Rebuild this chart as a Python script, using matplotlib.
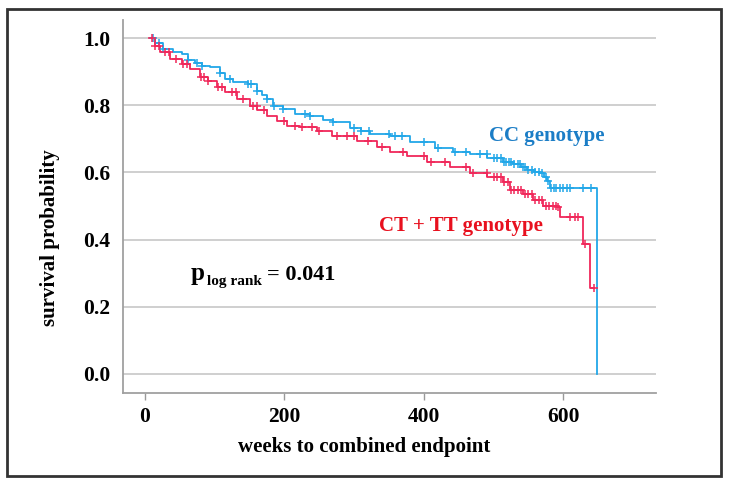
import numpy as np
import matplotlib
matplotlib.use("Agg")
import matplotlib.pyplot as plt
from matplotlib.patches import Rectangle

# Kaplan-Meier steps (weeks, survival after the step)
cc_time = [7, 14, 26, 40, 53, 62, 72, 82, 93, 108, 115, 126, 148, 160, 168, 175, 184, 198,
           215, 237, 255, 270, 294, 310, 323, 351, 380, 416, 442, 466, 491, 514, 528, 540,
           548, 558, 567, 572, 577, 581, 648]
cc_surv = [1.0, 0.985, 0.967, 0.960, 0.952, 0.934, 0.925, 0.916, 0.913, 0.896, 0.878, 0.869,
           0.863, 0.842, 0.830, 0.818, 0.797, 0.788, 0.775, 0.767, 0.757, 0.749, 0.731, 0.722,
           0.713, 0.707, 0.690, 0.672, 0.660, 0.654, 0.642, 0.630, 0.624, 0.615, 0.606, 0.600,
           0.597, 0.585, 0.573, 0.555, 0.0]
cc_censored = [12, 20, 26, 62, 75, 82, 108, 122, 148, 152, 160, 175, 185, 198, 230, 237, 270,
               300, 310, 322, 350, 358, 368, 400, 420, 445, 460, 480, 490, 500, 505, 510, 515,
               518, 522, 525, 530, 535, 538, 542, 545, 550, 555, 560, 565, 570, 575, 578, 583,
               586, 590, 595, 600, 605, 610, 628, 640]

ct_time = [7, 14, 22, 36, 53, 65, 79, 90, 103, 115, 132, 151, 161, 175, 189, 204, 222, 247,
           268, 304, 333, 351, 376, 405, 438, 466, 491, 514, 524, 542, 557, 571, 591, 595,
           628, 638]
ct_surv = [1.0, 0.976, 0.958, 0.937, 0.922, 0.907, 0.884, 0.872, 0.854, 0.839, 0.818, 0.797,
           0.785, 0.767, 0.752, 0.737, 0.734, 0.722, 0.707, 0.693, 0.675, 0.660, 0.648, 0.630,
           0.615, 0.597, 0.585, 0.570, 0.549, 0.537, 0.519, 0.501, 0.496, 0.466, 0.388, 0.257]
ct_end = 644
ct_censored = [10, 14, 20, 28, 35, 45, 55, 60, 80, 85, 90, 105, 110, 125, 130, 140, 155, 160,
               170, 200, 215, 225, 240, 250, 275, 290, 300, 320, 340, 370, 400, 410, 430, 460,
               470, 490, 500, 505, 510, 515, 520, 525, 530, 535, 540, 545, 550, 555, 560, 565,
               570, 575, 580, 585, 590, 593, 610, 617, 621, 631, 644]

y_ticks = [0.0, 0.2, 0.4, 0.6, 0.8, 1.0]
x_ticks = [0, 200, 400, 600]

cc_line = '#22a7e8'
ct_line = '#f0285a'
cc_text = '#1b7dc6'
ct_text = '#e8101e'

plt.rcParams['font.family'] = ['Liberation Serif', 'DejaVu Serif']
plt.rcParams['font.weight'] = 'bold'


def surv_at(times, surv, t):
    idx = np.searchsorted(times, t, side='right') - 1
    return np.asarray(surv)[np.clip(idx, 0, len(surv) - 1)]


fig = plt.figure(figsize=(7.29, 4.84), dpi=100)
ax = fig.add_axes([123 / 729, 1 - 393 / 484, (656 - 123) / 729, (393 - 20) / 484])

# frame round the whole picture
fig.patches.append(Rectangle((7 / 729, 1 - 476 / 484), (721 - 7) / 729, (476 - 9) / 484,
                             transform=fig.transFigure, fill=False,
                             edgecolor='#333333', linewidth=2.0))

for y in y_ticks:
    ax.axhline(y, color='#cfcfcf', linewidth=1.4, zorder=0)

ax.step(cc_time, cc_surv, where='post', color=cc_line, linewidth=1.3, zorder=3)
ax.step(ct_time + [ct_end], ct_surv + [ct_surv[-1]], where='post', color=ct_line,
        linewidth=1.3, zorder=3)

cc_cx = np.array(cc_censored)
ct_cx = np.array(ct_censored)
ax.plot(cc_cx, surv_at(cc_time, cc_surv, cc_cx), '+', color=cc_line, ms=6, mew=1.1, zorder=4)
ax.plot(ct_cx, surv_at(ct_time, ct_surv, ct_cx), '+', color=ct_line, ms=6, mew=1.1, zorder=4)

ax.set_xlim(-31.6, 733)
ax.set_ylim(-0.057, 1.054)
ax.set_yticks(y_ticks)
ax.set_yticklabels(['%.1f' % v for v in y_ticks])
ax.set_xticks(x_ticks)
ax.tick_params(axis='y', length=0, pad=9, labelsize=15.5)
ax.tick_params(axis='x', length=5, width=1, color='#999999', pad=5, labelsize=15.5)

for side in ['top', 'right']:
    ax.spines[side].set_visible(False)
for side in ['left', 'bottom']:
    ax.spines[side].set_color('#a0a0a0')
    ax.spines[side].set_linewidth(1.3)

fig.text(364 / 729, 1 - 447 / 484, 'weeks to combined endpoint', ha='center', va='center',
         fontsize=15, fontweight='bold')
fig.text(50 / 729, 1 - 238 / 484, 'survival probability', ha='center', va='center',
         rotation=90, fontsize=15, fontweight='bold')

ax.text(494, 0.707, 'CC genotype', color=cc_text, fontsize=15, fontweight='bold',
        ha='left', va='center')
ax.text(336, 0.439, 'CT + TT genotype', color=ct_text, fontsize=15, fontweight='bold',
        ha='left', va='center')

# p value: big "p", small lowered subscript, then the value
p_main = ax.text(65, 0.28, 'p', fontsize=18, fontweight='bold', ha='left', va='baseline')
fig.canvas.draw()
bb = p_main.get_window_extent()
x_px = bb.x1 + 3
y_base = ax.transData.transform((65, 0.28))[1]
sub = fig.text(x_px / fig.bbox.width, (y_base - 5) / fig.bbox.height, 'log rank',
               fontsize=11, fontweight='bold', ha='left', va='baseline')
fig.canvas.draw()
x_eq = sub.get_window_extent().x1 + 5
fig.text(x_eq / fig.bbox.width, y_base / fig.bbox.height, '= 0.041', fontsize=16,
         fontweight='bold', ha='left', va='baseline')

fig.savefig('out.png', dpi=100)
